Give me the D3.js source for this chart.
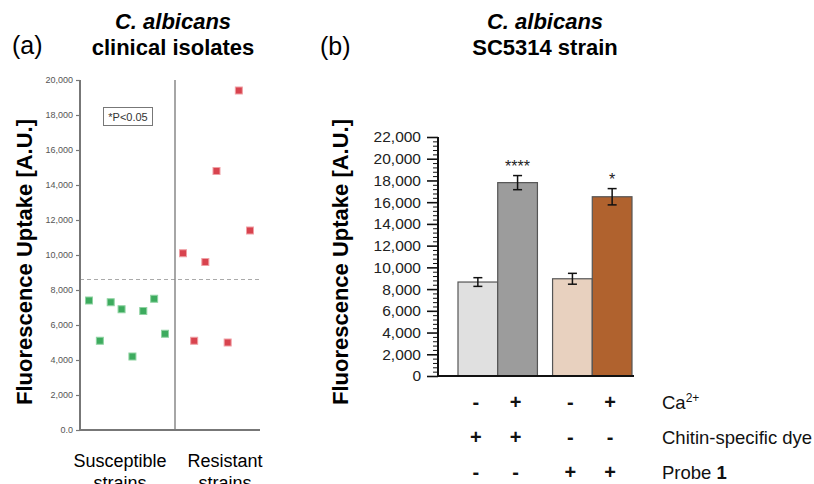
<!DOCTYPE html>
<html>
<head>
<meta charset="utf-8">
<script src="https://cdn.jsdelivr.net/npm/d3@7"></script>
<style>
  body { margin: 0; background: #fff; }
  svg { font-family: "Liberation Sans", Arial, sans-serif; }
</style>
</head>
<body>
<svg id="fig" width="814" height="484"></svg>
<script>
// panel (a): clinical isolates
const susceptible = [7400, 5100, 7300, 6900, 4200, 6800, 7500, 5500];
const resistant = [10100, 5100, 9600, 14800, 5000, 19400, 11400];
const threshold = 8600;
const leftTicks = d3.range(0, 20001, 2000);
const groupLabels = [["Susceptible", "strains"], ["Resistant", "strains"]];

// panel (b): SC5314 strain
const conditions = ["c1", "c2", "c3", "c4"];
const means = [8650, 17800, 8950, 16500];
const errors = [400, 650, 500, 750];
const signif = ["", "****", "", "*"];
const barColors = ["#e0e0e0", "#9c9c9c", "#e8d1bf", "#b0622e"];
const rightTicks = d3.range(0, 22001, 2000);
const rows = ["Ca", "Chitin-specific dye", "Probe "];
const rowSigns = [
  ["-", "+", "-", "+"],
  ["+", "+", "-", "-"],
  ["-", "-", "+", "+"]
];

const svg = d3.select("#fig");

// ---------- panel (a) ----------
svg.append("text").attr("x", 12).attr("y", 54)
  .attr("font-size", 25).text("(a)");
svg.append("text").attr("x", 173).attr("y", 29).attr("text-anchor", "middle")
  .attr("font-size", 22).attr("font-weight", "bold").attr("font-style", "italic")
  .text("C. albicans");
svg.append("text").attr("x", 173).attr("y", 55).attr("text-anchor", "middle")
  .attr("font-size", 22).attr("font-weight", "bold")
  .text("clinical isolates");

const yA = d3.scaleLinear().domain([0, 20000]).range([430, 80]);
const xS = d3.scaleLinear().domain([0, susceptible.length - 1]).range([89, 165]);
const xR = d3.scaleLinear().domain([0, resistant.length - 1]).range([183, 250]);

// dashed threshold
svg.append("line")
  .attr("x1", 80).attr("x2", 260)
  .attr("y1", yA(threshold)).attr("y2", yA(threshold))
  .attr("stroke", "#aaa").attr("stroke-width", 1)
  .attr("stroke-dasharray", "4,3");

// divider
svg.append("line")
  .attr("x1", 175).attr("x2", 175).attr("y1", yA(20000)).attr("y2", yA(0))
  .attr("stroke", "#888").attr("stroke-width", 1.5);

// left axis
svg.append("g")
  .attr("transform", "translate(80,0)")
  .call(d3.axisLeft(yA).tickValues(leftTicks).tickSize(4).tickPadding(3)
    .tickFormat(d => d === 0 ? "0.0" : d3.format(",")(d)))
  .call(g => g.select(".domain").attr("stroke", "#777").attr("stroke-width", 2).attr("d", "M0,80V430"))
  .call(g => g.selectAll(".tick line").attr("stroke", "#777").attr("stroke-width", 1.2))
  .call(g => g.selectAll(".tick text").attr("fill", "#555").attr("font-size", 9)
    .attr("font-family", "Liberation Sans, Arial, sans-serif"));

// bottom line
svg.append("line")
  .attr("x1", 79).attr("x2", 260).attr("y1", yA(0)).attr("y2", yA(0))
  .attr("stroke", "#777").attr("stroke-width", 2);

// box
svg.append("rect").attr("x", 103.5).attr("y", 107.5).attr("width", 49).attr("height", 18)
  .attr("fill", "#fff").attr("stroke", "#777").attr("stroke-width", 1);
svg.append("text").attr("x", 128).attr("y", 120.5).attr("text-anchor", "middle")
  .attr("font-size", 11).attr("fill", "#333").text("*P<0.05");

// points
const sq = 7;
svg.append("g").selectAll("rect")
  .data(susceptible).join("rect")
  .attr("x", (d, i) => xS(i) - sq / 2).attr("y", d => yA(d) - sq / 2)
  .attr("width", sq).attr("height", sq)
  .attr("fill", "#3dab5e").attr("stroke", "#8fd3a2").attr("stroke-width", 1);
svg.append("g").selectAll("rect")
  .data(resistant).join("rect")
  .attr("x", (d, i) => xR(i) - sq / 2).attr("y", d => yA(d) - sq / 2)
  .attr("width", sq).attr("height", sq)
  .attr("fill", "#d8434e").attr("stroke", "#f0a0a5").attr("stroke-width", 1);

// y label
svg.append("text")
  .attr("transform", "translate(32,262) rotate(-90)")
  .attr("text-anchor", "middle").attr("font-size", 22).attr("font-weight", "bold")
  .text("Fluorescence Uptake [A.U.]");

// group labels (second line runs off the bottom edge as in the original)
[120, 225].forEach((cx, i) => {
  const t = svg.append("text").attr("x", cx).attr("y", 467).attr("text-anchor", "middle")
    .attr("font-size", 18);
  t.append("tspan").attr("x", cx).text(groupLabels[i][0]);
  t.append("tspan").attr("x", cx).attr("dy", 22).text(groupLabels[i][1]);
});

// ---------- panel (b) ----------
svg.append("text").attr("x", 320).attr("y", 55)
  .attr("font-size", 25).text("(b)");
svg.append("text").attr("x", 545).attr("y", 29).attr("text-anchor", "middle")
  .attr("font-size", 22).attr("font-weight", "bold").attr("font-style", "italic")
  .text("C. albicans");
svg.append("text").attr("x", 545).attr("y", 55).attr("text-anchor", "middle")
  .attr("font-size", 22).attr("font-weight", "bold")
  .text("SC5314 strain");

const yB = d3.scaleLinear().domain([0, 22000]).range([376, 137]);
const xGroup = d3.scaleBand().domain([0, 1]).range([458, 632]).paddingInner(0.16);
const xInner = d3.scaleBand().domain([0, 1]).range([0, xGroup.bandwidth()]);
const barX = i => xGroup(Math.floor(i / 2)) + xInner(i % 2);
const barW = xInner.bandwidth();

// minor ticks
svg.append("g")
  .attr("transform", "translate(438,0)")
  .call(d3.axisLeft(yB).tickValues(d3.range(0, 22001, 400).filter(v => v % 2000 !== 0))
    .tickSize(5).tickFormat(""))
  .call(g => g.select(".domain").remove())
  .call(g => g.selectAll(".tick line").attr("stroke", "#111").attr("stroke-width", 1));

// major axis
svg.append("g")
  .attr("transform", "translate(438,0)")
  .call(d3.axisLeft(yB).tickValues(rightTicks).tickSize(11).tickPadding(6)
    .tickFormat(d3.format(",")))
  .call(g => g.select(".domain").attr("stroke", "#111").attr("stroke-width", 2).attr("d", "M0,137V376"))
  .call(g => g.selectAll(".tick line").attr("stroke", "#111").attr("stroke-width", 1.6))
  .call(g => g.selectAll(".tick text").attr("fill", "#222").attr("font-size", 15.5)
    .attr("font-family", "Liberation Sans, Arial, sans-serif"));

// bars
svg.append("g").selectAll("rect")
  .data(means).join("rect")
  .attr("x", (d, i) => barX(i)).attr("y", d => yB(d))
  .attr("width", barW).attr("height", d => yB(0) - yB(d))
  .attr("fill", (d, i) => barColors[i])
  .attr("stroke", "#555").attr("stroke-width", 1.2);

// baseline
svg.append("line")
  .attr("x1", 437).attr("x2", 634).attr("y1", yB(0)).attr("y2", yB(0))
  .attr("stroke", "#111").attr("stroke-width", 2);

// error bars
const eb = svg.append("g").attr("stroke", "#111").attr("stroke-width", 1.5);
means.forEach((m, i) => {
  const cx = barX(i) + barW / 2;
  eb.append("line").attr("x1", cx).attr("x2", cx)
    .attr("y1", yB(m + errors[i])).attr("y2", yB(m - errors[i]));
  [m + errors[i], m - errors[i]].forEach(v => {
    eb.append("line").attr("x1", cx - 4.5).attr("x2", cx + 4.5)
      .attr("y1", yB(v)).attr("y2", yB(v));
  });
});

// significance
svg.append("g").selectAll("text")
  .data(signif).join("text")
  .attr("x", (d, i) => barX(i) + barW / 2)
  .attr("y", (d, i) => yB(means[i] + errors[i]) - 4)
  .attr("text-anchor", "middle").attr("font-size", 16).attr("fill", "#222")
  .text(d => d);

// y label
svg.append("text")
  .attr("transform", "translate(348,262) rotate(-90)")
  .attr("text-anchor", "middle").attr("font-size", 22).attr("font-weight", "bold")
  .text("Fluorescence Uptake [A.U.]");

// condition table
const rowY = [409, 444, 479];
rowSigns.forEach((signs, r) => {
  signs.forEach((s, i) => {
    svg.append("text")
      .attr("x", barX(i) + barW / 2 - 2).attr("y", rowY[r])
      .attr("text-anchor", "middle").attr("font-size", 20).attr("font-weight", "bold")
      .attr("fill", "#111")
      .text(s);
  });
  const t = svg.append("text").attr("x", 662).attr("y", rowY[r])
    .attr("font-size", 18.5).attr("fill", "#111");
  t.append("tspan").text(rows[r]);
  if (r === 0) t.append("tspan").attr("font-size", 12).attr("dy", -7).text("2+");
  if (r === 2) t.append("tspan").attr("font-weight", "bold").text("1");
});
</script>
</body>
</html>
